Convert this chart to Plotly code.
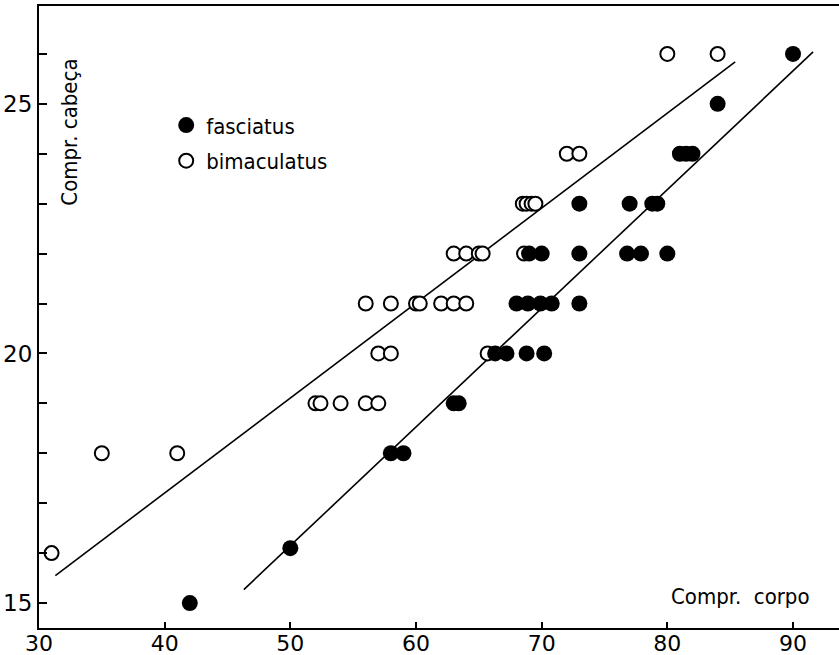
import plotly.graph_objects as go

# fasciatus (filled circles)
fasc_x = [42, 50, 58, 59, 63, 63.4, 66.3, 67.2, 68.8, 70.2, 68, 68.9, 69.9, 70.8, 73,
          69, 70, 73, 76.8, 77.9, 80, 73, 77, 78.8, 79.2, 81, 81.5, 82, 84, 90]
fasc_y = [15, 16.1, 18, 18, 19, 19, 20, 20, 20, 20, 21, 21, 21, 21, 21,
          22, 22, 22, 22, 22, 22, 23, 23, 23, 23, 24, 24, 24, 25, 26]

# bimaculatus (open circles)
bima_x = [31, 35, 41, 52, 52.4, 54, 56, 57, 57, 58, 65.7, 56, 58, 60, 60.3, 62, 63, 64,
          63, 64, 65, 65.3, 68.6, 68.5, 68.8, 69.2, 69.5, 72, 73, 80, 84]
bima_y = [16, 18, 18, 19, 19, 19, 19, 19, 20, 20, 20, 21, 21, 21, 21, 21, 21, 21,
          22, 22, 22, 22, 22, 23, 23, 23, 23, 24, 24, 26, 26]

# fitted lines (endpoints)
fit_bima_x = [31.3, 85.4]
fit_bima_y = [15.55, 25.84]
fit_fasc_x = [46.3, 91.6]
fit_fasc_y = [15.27, 26.04]

x_ticks = [30, 40, 50, 60, 70, 80, 90]
y_ticks = list(range(15, 27))
y_ticklabels = ["15", "", "", "", "", "20", "", "", "", "", "25", ""]

FONT = "DejaVu Sans Condensed, DejaVu Sans, sans-serif"

fig = go.Figure()
fig.add_trace(go.Scatter(x=fit_bima_x, y=fit_bima_y, mode="lines",
                         line=dict(color="black", width=1.6), showlegend=False))
fig.add_trace(go.Scatter(x=fit_fasc_x, y=fit_fasc_y, mode="lines",
                         line=dict(color="black", width=1.6), showlegend=False))
fig.add_trace(go.Scatter(x=bima_x, y=bima_y, mode="markers", name="bimaculatus",
                         legendrank=2, legendgroup="b",
                         marker=dict(symbol="circle", size=14, color="white",
                                     line=dict(color="black", width=2))))
fig.add_trace(go.Scatter(x=fasc_x, y=fasc_y, mode="markers", name="fasciatus",
                         legendrank=1, legendgroup="a",
                         marker=dict(symbol="circle", size=16, color="black",
                                     line=dict(color="black", width=0))))

fig.update_layout(
    width=839, height=655,
    margin=dict(l=39, r=0, t=6, b=27),
    paper_bgcolor="white", plot_bgcolor="white",
    font=dict(family=FONT, color="black", size=22),
    legend=dict(x=0.159, y=0.842, xanchor="left", yanchor="top",
                bgcolor="rgba(0,0,0,0)", font=dict(family=FONT, size=22),
                tracegroupgap=4, itemwidth=30),
    xaxis=dict(range=[30, 93.66], tickvals=x_ticks, ticks="inside", ticklen=6,
               tickwidth=1.5, tickcolor="black", showline=True, linecolor="black",
               linewidth=2, mirror=True, showgrid=False, zeroline=False,
               automargin=False, ticklabelstandoff=-5,
               tickfont=dict(family="DejaVu Sans", size=22)),
    yaxis=dict(range=[14.5, 26.96], tickvals=y_ticks, ticktext=y_ticklabels,
               ticks="inside", ticklen=8, tickwidth=1.5, tickcolor="black",
               showline=True, linecolor="black", linewidth=2, showgrid=False,
               zeroline=False, automargin=False,
               tickfont=dict(family="DejaVu Sans", size=23)),
    annotations=[
        dict(text="Compr. cabeça", xref="paper", yref="paper", x=0.038, y=0.797,
             xanchor="center", yanchor="middle",
             textangle=-90, showarrow=False, font=dict(family=FONT, size=22)),
        dict(text="Compr.\u00a0 corpo", xref="paper", yref="paper", x=0.877, y=0.05,
             xanchor="center", yanchor="middle",
             showarrow=False, font=dict(family=FONT, size=22)),
    ],
)

fig.write_html("out.html")
